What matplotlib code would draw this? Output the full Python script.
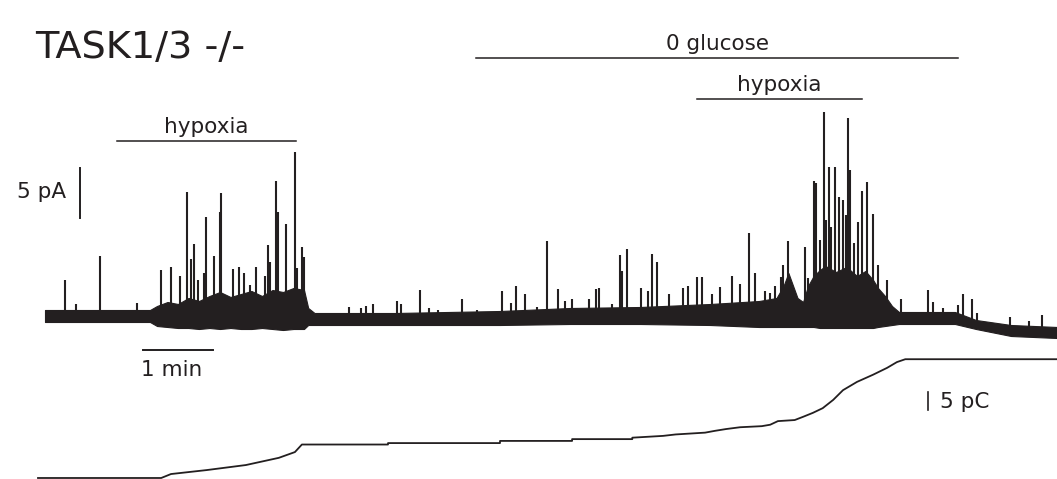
import numpy as np
import matplotlib
matplotlib.use("Agg")
import matplotlib.pyplot as plt

plt.rcParams['font.family'] = ['DejaVu Sans']

ink = '#231f20'

# spike peaks: time (min) and current (pA, relative to starting baseline)
spike_t = [0.29, 0.44, 0.79, 1.31, 1.66, 1.80, 1.93, 2.03, 2.09, 2.13, 2.19, 2.27,
           2.30, 2.41, 2.50, 2.51, 2.69, 2.77, 2.84, 2.93, 3.01, 3.14, 3.19, 3.21,
           3.30, 3.33, 3.44, 3.57, 3.60, 3.67, 3.70,
           4.34, 4.51, 4.59, 4.69, 5.03, 5.09, 5.36, 5.49, 5.61, 5.96, 6.17, 6.53,
           6.66, 6.73, 6.86, 7.03, 7.17, 7.33, 7.43, 7.53, 7.77, 7.87, 7.91, 8.10,
           8.21, 8.24, 8.31, 8.51, 8.61, 8.67, 8.74, 8.91, 9.11, 9.19, 9.31, 9.39,
           9.53, 9.64, 9.81, 9.93, 10.06, 10.14, 10.29, 10.36, 10.43, 10.51, 10.54,
           10.61, 10.86, 10.90, 10.99, 11.01, 11.07, 11.13, 11.16, 11.20, 11.23,
           11.29, 11.34, 11.40, 11.44, 11.47, 11.50, 11.56, 11.61, 11.67, 11.74,
           11.83, 11.90, 12.03, 12.23, 12.61, 12.69, 12.83, 13.04, 13.11, 13.24,
           13.31, 13.79, 14.06, 14.24]
spike_pA = [3.6, 1.2, 6.0, 1.3, 4.6, 4.9, 4.0, 12.4, 5.7, 7.2, 3.6, 4.3,
            9.9, 6.0, 10.4, 12.3, 4.7, 4.9, 4.3, 3.1, 4.9, 4.0, 7.1, 5.4,
            13.5, 10.4, 9.2, 16.4, 4.8, 6.9, 5.9,
            0.9, 0.8, 1.0, 1.2, 1.5, 1.2, 2.6, 0.8, 0.6, 1.7, 0.6, 2.5,
            1.3, 3.0, 2.2, 0.9, 7.5, 2.7, 1.5, 1.7, 1.7, 2.7, 2.8, 1.2,
            6.1, 4.5, 6.7, 2.8, 2.5, 6.2, 5.4, 2.2, 2.8, 3.0, 3.9, 3.9,
            2.2, 2.9, 4.0, 3.2, 8.3, 4.3, 2.5, 2.3, 3.0, 3.9, 5.1,
            7.5, 6.9, 3.8, 13.5, 13.3, 7.6, 20.4, 9.6, 14.9, 8.9,
            14.9, 11.9, 11.6, 10.1, 19.8, 14.6, 7.3, 9.4, 12.5, 13.4,
            10.2, 5.1, 3.6, 1.7, 2.6, 1.4, 0.8, 1.1, 2.2, 1.7,
            0.3, -0.1, -0.5, 0.1]

# noise band of the current trace (upper / lower edge, pA)
band_t = [0.0, 1.5, 1.6, 1.75, 1.9, 2.05, 2.2, 2.35, 2.5, 2.65, 2.8, 2.95, 3.1,
          3.25, 3.4, 3.55, 3.7, 3.76, 3.85, 5.0, 6.5, 7.5, 8.5, 9.5, 10.2, 10.45,
          10.55, 10.62, 10.75, 10.83, 10.9, 10.98, 11.07, 11.15, 11.3, 11.45,
          11.6, 11.72, 11.83, 11.9, 12.0, 12.1, 12.2, 13.0, 13.3, 13.8, 14.46]
band_hi = [0.6, 0.6, 1.0, 1.4, 1.2, 1.8, 1.5, 2.0, 2.4, 1.9, 2.2, 2.5, 2.0,
           2.6, 2.4, 2.8, 2.6, 0.8, 0.3, 0.3, 0.5, 0.8, 0.9, 1.2, 1.5, 1.8,
           3.0, 4.3, 1.8, 1.4, 3.0, 4.0, 4.6, 5.0, 4.4, 4.9,
           4.0, 4.5, 3.6, 2.8, 2.0, 1.0, 0.4, 0.4, -0.4, -0.9, -1.1]
band_lo = [-0.6, -0.6, -1.0, -1.1, -1.2, -1.2, -1.3, -1.2, -1.3, -1.2, -1.3, -1.3, -1.2,
           -1.3, -1.4, -1.3, -1.3, -0.9, -0.9, -0.9, -0.9, -0.8, -0.8, -0.9, -1.1, -1.1,
           -1.1, -1.1, -1.1, -1.1, -1.1, -1.1, -1.2, -1.2, -1.2, -1.2,
           -1.2, -1.2, -1.2, -1.1, -1.0, -0.9, -0.8, -0.8, -1.3, -2.0, -2.2]

# cumulative charge (pC); repeated times are the visible steps
charge_t = [-0.10, 1.66, 1.80, 2.31, 2.87, 3.34, 3.57, 3.67, 4.90, 4.90, 6.50, 6.50,
            7.53, 7.53, 8.39, 8.39, 8.83, 9.01, 9.43, 9.57, 9.73, 9.93, 10.24, 10.36,
            10.47, 10.71, 10.83, 10.97, 11.11, 11.26, 11.40, 11.60, 11.83, 12.03,
            12.17, 12.29, 14.46]
charge_pC = [0.0, 0.0, 1.1, 2.2, 3.6, 5.6, 7.2, 9.3, 9.3, 9.7, 9.7, 10.3,
             10.3, 10.8, 10.8, 11.2, 11.7, 12.1, 12.6, 13.1, 13.6, 14.1, 14.4, 14.8,
             15.8, 16.1, 17.0, 18.1, 19.4, 21.7, 24.4, 26.7, 28.7, 30.6,
             32.2, 33.0, 33.0]

# solution changes (min)
conditions = ['hypoxia', '0 glucose', 'hypoxia']
cond_start = [1.03, 6.16, 9.31]
cond_end = [3.59, 13.04, 11.67]
cond_level = [17.5, 25.8, 21.7]

fig = plt.figure(figsize=(10.57, 4.79), dpi=100)
ax = fig.add_axes([0, 0, 1, 1])
ax.set_xlim(-45 / 70, 1012 / 70)
ax.set_ylim(-16.3, 31.6)
ax.axis('off')

ax.fill_between(band_t, band_lo, band_hi, color=ink, lw=0.8)
spike_base = np.interp(spike_t, band_t, band_lo)
ax.vlines(spike_t, spike_base, spike_pA, color=ink, lw=1.5)

for name, t0, t1, lev in zip(conditions, cond_start, cond_end, cond_level):
    ax.plot([t0, t1], [lev, lev], color=ink, lw=1.1)
    ax.text((t0 + t1) / 2, lev + 0.8, name, ha='center', va='baseline',
            fontsize=15.5, color=ink)

ax.text(-0.14, 25.8, 'TASK1/3 -/-', ha='left', va='baseline', fontsize=27.5, color=ink)

# scale bars
ax.plot([0.5, 0.5], [9.8, 14.8], color=ink, lw=1.4)
ax.text(0.3, 12.4, '5 pA', ha='right', va='center', fontsize=15.5, color=ink)
ax.plot([1.4, 2.4], [-3.4, -3.4], color=ink, lw=1.4)
ax.text(1.81, -5.4, '1 min', ha='center', va='center', fontsize=15.5, color=ink)

# charge trace on its own scale
ax2 = fig.add_axes([0, 0, 1, 1])
ax2.patch.set_alpha(0)
ax2.set_xlim(-45 / 70, 1012 / 70)
ax2.set_ylim(-0.28, 132.8)
ax2.axis('off')
ax2.plot(charge_t, charge_pC, color=ink, lw=1.3)
ax2.plot([12.61, 12.61], [18.9, 23.9], color=ink, lw=1.2)
ax2.text(12.78, 21.2, '5 pC', ha='left', va='center', fontsize=15.5, color=ink)

fig.savefig('out.png', dpi=100)
